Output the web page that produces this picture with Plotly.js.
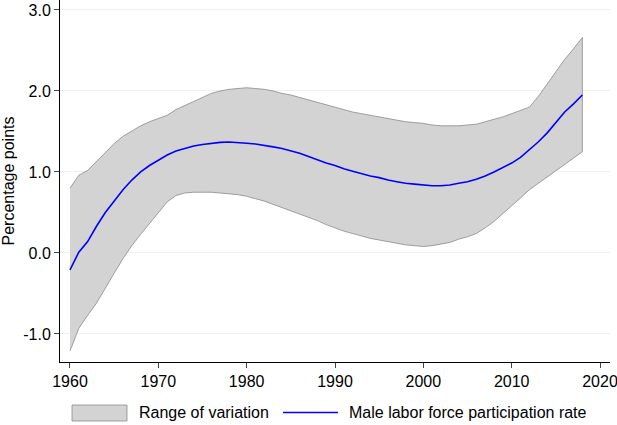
<!DOCTYPE html>
<html>
<head>
<meta charset="utf-8">
<script src="https://cdn.plot.ly/plotly-3.0.1.min.js"></script>
<style>html,body{margin:0;padding:0;background:#fff}#chart{width:617px;height:425px}</style>
</head>
<body>
<div id="chart"></div>
<script>
var years = [1960,1961,1962,1963,1964,1965,1966,1967,1968,1969,1970,1971,1972,1973,1974,1975,1976,1977,1978,1979,1980,1981,1982,1983,1984,1985,1986,1987,1988,1989,1990,1991,1992,1993,1994,1995,1996,1997,1998,1999,2000,2001,2002,2003,2004,2005,2006,2007,2008,2009,2010,2011,2012,2013,2014,2015,2016,2017,2018];
var maleRate = [-0.21,0.01,0.14,0.33,0.50,0.64,0.78,0.90,1.00,1.08,1.15,1.21,1.26,1.29,1.32,1.34,1.355,1.365,1.37,1.365,1.355,1.345,1.33,1.31,1.29,1.26,1.23,1.19,1.15,1.11,1.08,1.04,1.01,0.98,0.95,0.93,0.90,0.88,0.86,0.85,0.84,0.83,0.83,0.84,0.86,0.88,0.91,0.95,1.00,1.05,1.11,1.18,1.27,1.37,1.48,1.61,1.74,1.84,1.95];
var upperBound = [0.80,0.96,1.02,1.13,1.25,1.35,1.44,1.51,1.57,1.62,1.66,1.70,1.77,1.82,1.88,1.93,1.97,2.00,2.02,2.03,2.04,2.03,2.02,2.00,1.97,1.95,1.92,1.89,1.86,1.83,1.80,1.77,1.74,1.72,1.70,1.68,1.66,1.64,1.62,1.61,1.60,1.58,1.57,1.57,1.57,1.58,1.59,1.62,1.65,1.68,1.72,1.76,1.80,1.93,2.08,2.23,2.39,2.52,2.66];
var lowerBound = [-1.21,-0.93,-0.77,-0.62,-0.44,-0.25,-0.07,0.09,0.23,0.36,0.50,0.63,0.71,0.74,0.75,0.75,0.75,0.74,0.73,0.72,0.70,0.67,0.64,0.60,0.56,0.52,0.48,0.44,0.40,0.35,0.31,0.27,0.24,0.21,0.18,0.16,0.14,0.12,0.10,0.09,0.08,0.09,0.11,0.13,0.17,0.20,0.24,0.31,0.39,0.48,0.58,0.68,0.78,0.86,0.94,1.02,1.10,1.17,1.25];
var yTickVals = [-1,0,1,2,3];
var yTickText = ['-1.0','0.0','1.0','2.0','3.0'];
var xTickVals = [1960,1970,1980,1990,2000,2010,2020];
var seriesNames = ['Range of variation','Male labor force participation rate'];

var bandX = years.concat(years.slice().reverse());
var bandY = upperBound.concat(lowerBound.slice().reverse());

var bandFill = '#d3d3d3', bandLine = '#8a8a8a', lineColor = '#0000ff';

var traces = [
  {x: bandX, y: bandY, type:'scatter', mode:'lines', fill:'toself',
   fillcolor:bandFill, line:{color:bandLine, width:0.8},
   name: seriesNames[0], hoverinfo:'skip', showlegend:false},
  {x: years, y: maleRate, type:'scatter', mode:'lines',
   line:{color:lineColor, width:1.6}, name: seriesNames[1], showlegend:false}
];

// manual legend (paper coordinates): plot area is x 60..610, y 0..362 px
function px(xp){ return (xp-60)/550; }
function py(yp){ return (362-yp)/362; }

var layout = {
  width:617, height:425,
  margin:{l:60, r:7, t:0, b:63},
  paper_bgcolor:'#fff', plot_bgcolor:'#fff',
  font:{family:'"Liberation Sans", Arial, sans-serif', size:16, color:'#000'},
  showlegend:false,
  xaxis:{range:[1958.87, 2021.13], tickvals:xTickVals, ticks:'outside', ticklen:5,
         tickcolor:'#444', showline:true, linecolor:'#000', linewidth:1,
         showgrid:false, zeroline:false, fixedrange:true, ticklabeloverflow:'allow'},
  yaxis:{range:[-1.346, 3.123], tickvals:yTickVals, ticktext:yTickText,
         ticks:'outside', ticklen:5, tickcolor:'#444',
         showline:true, linecolor:'#000', linewidth:1,
         showgrid:true, gridcolor:'#eaf2f2', gridwidth:1, zeroline:false,
         title:{text:'Percentage points', font:{size:16}, standoff:6}, fixedrange:true},
  shapes:[
    {type:'rect', xref:'paper', yref:'paper', x0:px(72), x1:px(127), y0:py(405), y1:py(421),
     fillcolor:bandFill, line:{color:bandLine, width:0.8}},
    {type:'line', xref:'paper', yref:'paper', x0:px(283), x1:px(338), y0:py(412.5), y1:py(412.5),
     line:{color:lineColor, width:1.6}}
  ],
  annotations:[
    {xref:'paper', yref:'paper', x:px(137), y:py(413), xanchor:'left', yanchor:'middle',
     text:seriesNames[0], showarrow:false, font:{size:16, color:'#000'}},
    {xref:'paper', yref:'paper', x:px(347), y:py(413), xanchor:'left', yanchor:'middle',
     text:seriesNames[1], showarrow:false, font:{size:16, color:'#000'}}
  ]
};

Plotly.newPlot('chart', traces, layout, {displayModeBar:false, staticPlot:true});
</script>
</body>
</html>
